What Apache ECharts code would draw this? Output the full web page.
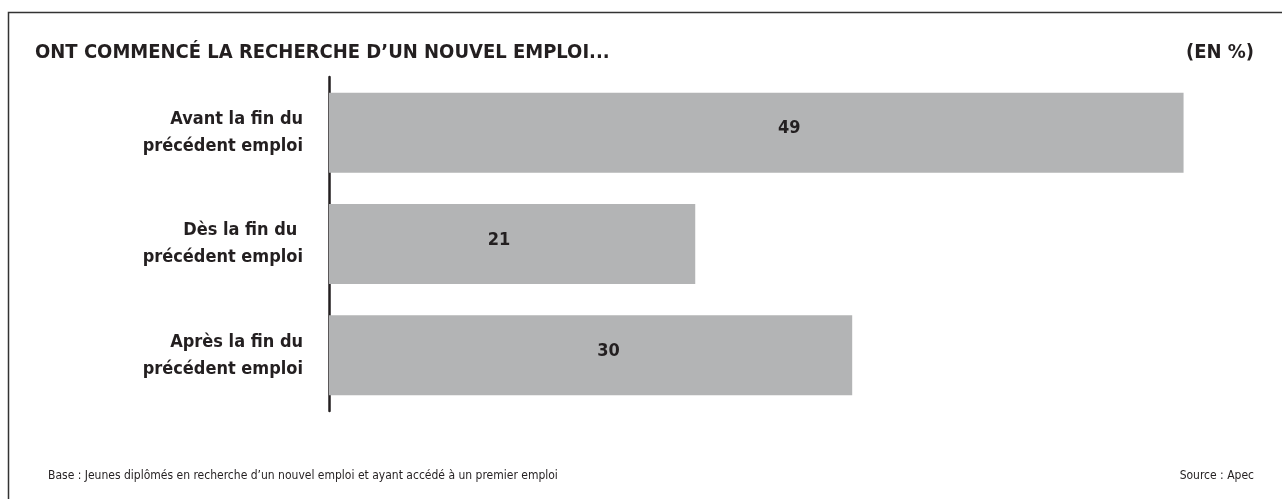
<!DOCTYPE html>
<html>
<head>
<meta charset="utf-8">
<script src="https://cdn.jsdelivr.net/npm/echarts@6/dist/echarts.min.js"></script>
<style>
  html, body { margin: 0; padding: 0; background: #fff; }
  #chart { width: 1282px; height: 499px; }
</style>
</head>
<body>
<div id="chart"></div>
<script>
const categories = [
  'Avant la fin du\nprécédent emploi',
  'Dès la fin du \nprécédent emploi',
  'Après la fin du\nprécédent emploi'
]
const values = [49, 21, 30]
// where the number sits inside each bar (not always centred in the original)
const labelShift = [33, -13, 18]

const title = 'ONT COMMENCÉ LA RECHERCHE D’UN NOUVEL EMPLOI...'
const unit = '(EN %)'
const note = 'Base : Jeunes diplômés en recherche d’un nouvel emploi et ayant accédé à un premier emploi'
const source = 'Source : Apec'

const font = '"DejaVu Sans Condensed", "DejaVu Sans", sans-serif'
const ink = '#231f20'

const chart = echarts.init(document.getElementById('chart'))

chart.setOption({
  backgroundColor: '#fff',
  animation: false,
  title: [{
    text: title,
    left: 30,
    top: 38,
    textStyle: { fontFamily: font, fontWeight: 'bold', fontSize: 20, color: ink }
  }, {
    text: unit,
    right: 23,
    top: 38,
    textStyle: { fontFamily: font, fontWeight: 'bold', fontSize: 20, color: ink }
  }, {
    text: note,
    left: 43,
    top: 465,
    textStyle: { fontFamily: font, fontWeight: 'normal', fontSize: 12, color: ink }
  }, {
    text: source,
    right: 23,
    top: 465,
    textStyle: { fontFamily: font, fontWeight: 'normal', fontSize: 12, color: ink }
  }],
  graphic: [{
    type: 'rect',
    shape: { x: 8.5, y: 12.5, width: 1400, height: 600 },
    style: { fill: 'none', stroke: '#333', lineWidth: 1.5 },
    silent: true
  }],
  grid: {
    left: 329,
    right: 81,
    top: 77,
    height: 334,
    containLabel: false
  },
  xAxis: {
    type: 'value',
    min: 0,
    max: 50,
    show: false
  },
  yAxis: {
    type: 'category',
    inverse: true,
    data: categories,
    axisLine: { show: true, lineStyle: { color: ink, width: 2.5 } },
    axisTick: { show: false },
    splitLine: { show: false },
    axisLabel: {
      margin: 26,
      align: 'right',
      padding: [3, 0, 0, 0],
      fontFamily: font,
      fontWeight: 'bold',
      fontSize: 18,
      lineHeight: 27,
      color: ink
    }
  },
  series: [{
    type: 'bar',
    barWidth: 80,
    itemStyle: { color: '#b3b4b5' },
    data: values.map((v, i) => ({
      value: v,
      label: { offset: [labelShift[i], -4] }
    })),
    label: {
      show: true,
      position: 'inside',
      fontFamily: font,
      fontWeight: 'bold',
      fontSize: 18,
      color: ink
    }
  }]
})
</script>
</body>
</html>
